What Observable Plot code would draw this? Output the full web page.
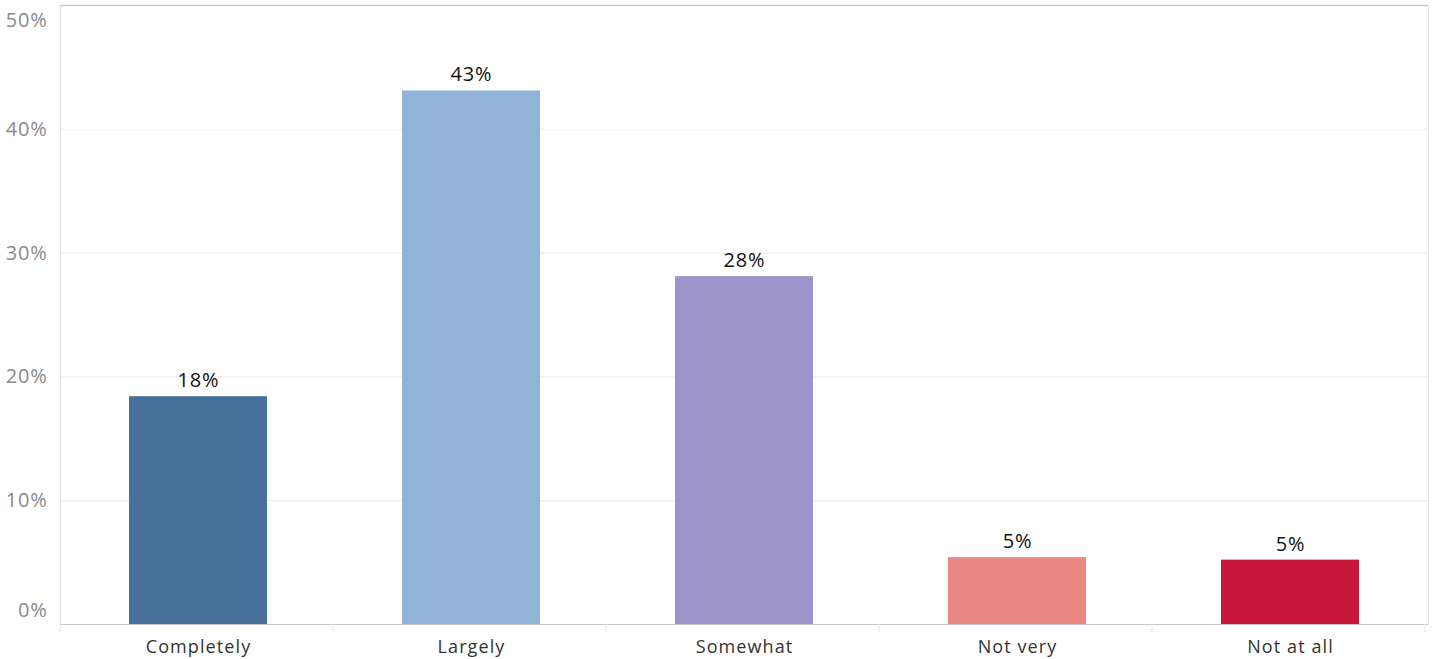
<!DOCTYPE html>
<html><head><meta charset="utf-8">
<script src="https://cdn.jsdelivr.net/npm/d3@7"></script>
<script src="https://cdn.jsdelivr.net/npm/@observablehq/plot@0.6"></script>
<style>
html,body{margin:0;padding:0;background:#fff;}
svg{display:block;}
svg text.xlab{letter-spacing:1.1px;}
svg g.vlab text, svg g.ylab text{letter-spacing:0.8px;}
</style>
</head><body>
<div id="chart"></div>
<script>
const categories = ["Completely", "Largely", "Somewhat", "Not very", "Not at all"];
const values = [0.184, 0.431, 0.281, 0.054, 0.052];
const labels = ["18%", "43%", "28%", "5%", "5%"];
const colors = ["#47709b", "#92b3d8", "#9d94c9", "#ea8983", "#c9163b"];
const yTicks = [0, 0.1, 0.2, 0.3, 0.4, 0.5];
const yTickLabels = ["0%", "10%", "20%", "30%", "40%", "50%"];

const data = categories.map((c, i) => ({cat: c, value: values[i], label: labels[i], color: colors[i]}));
const font = "'Open Sans', Lato, sans-serif";

const chart = Plot.plot({
  width: 1433,
  height: 659,
  marginLeft: 60,
  marginRight: 5,
  marginTop: 5,
  marginBottom: 35,
  style: {fontFamily: font, background: "#fff"},
  x: {domain: categories, paddingInner: 0.495, paddingOuter: 0.2475, align: 0.5, label: null},
  y: {domain: [0, 0.5], label: null, axis: null},
  marks: [
    Plot.ruleY(yTicks.slice(1, 5), {stroke: "#ebebeb", strokeWidth: 1}),
    Plot.frame({anchor: "left", stroke: "#e0e0e0"}),
    Plot.frame({anchor: "right", stroke: "#e6e6e6"}),
    Plot.barY(data, {x: "cat", y: "value", fill: "color"}),
    Plot.ruleY([0], {stroke: "#c8c8c8", strokeWidth: 1}),
    Plot.ruleY([0.5], {stroke: "#c8c8c8", strokeWidth: 1.5}),
    Plot.text(data, {x: "cat", y: "value", text: "label", dy: -16, fill: "#111", fontSize: 20, className: "vlab"}),
    Plot.axisX({tickSize: 0, fontSize: 18, fill: "#333", tickPadding: 16, label: null}),
    Plot.text(yTicks.slice(1, 5), {y: d => d, text: (d, i) => yTickLabels[i + 1], frameAnchor: "left", textAnchor: "end", dx: -13, fill: "#8a8a8a", fontSize: 20, className: "ylab"}),
    Plot.text([0], {y: d => d, text: () => yTickLabels[0], frameAnchor: "left", textAnchor: "end", dx: -13, dy: -14, fill: "#8a8a8a", fontSize: 20, className: "ylab"}),
    Plot.text([0.5], {y: d => d, text: () => yTickLabels[5], frameAnchor: "left", textAnchor: "end", dx: -13, dy: 15, fill: "#8a8a8a", fontSize: 20, className: "ylab"})
  ]
});
document.getElementById("chart").appendChild(chart);
chart.querySelectorAll("g[aria-label='x-axis tick label'] text").forEach(t => t.setAttribute("class", "xlab"));

// category separator ticks below baseline
const svg = d3.select(chart);
const xs = chart.scale("x");
const y0 = chart.scale("y").apply(0);
const step = xs.step;
const left = 60;
const seps = d3.range(categories.length + 1).map(i => left + i * step);
svg.append("g").selectAll("line").data(seps).join("line")
  .attr("x1", d => d).attr("x2", d => d)
  .attr("y1", y0).attr("y2", y0 + 8)
  .attr("stroke", "#e6e6e6");
</script>
</body></html>
